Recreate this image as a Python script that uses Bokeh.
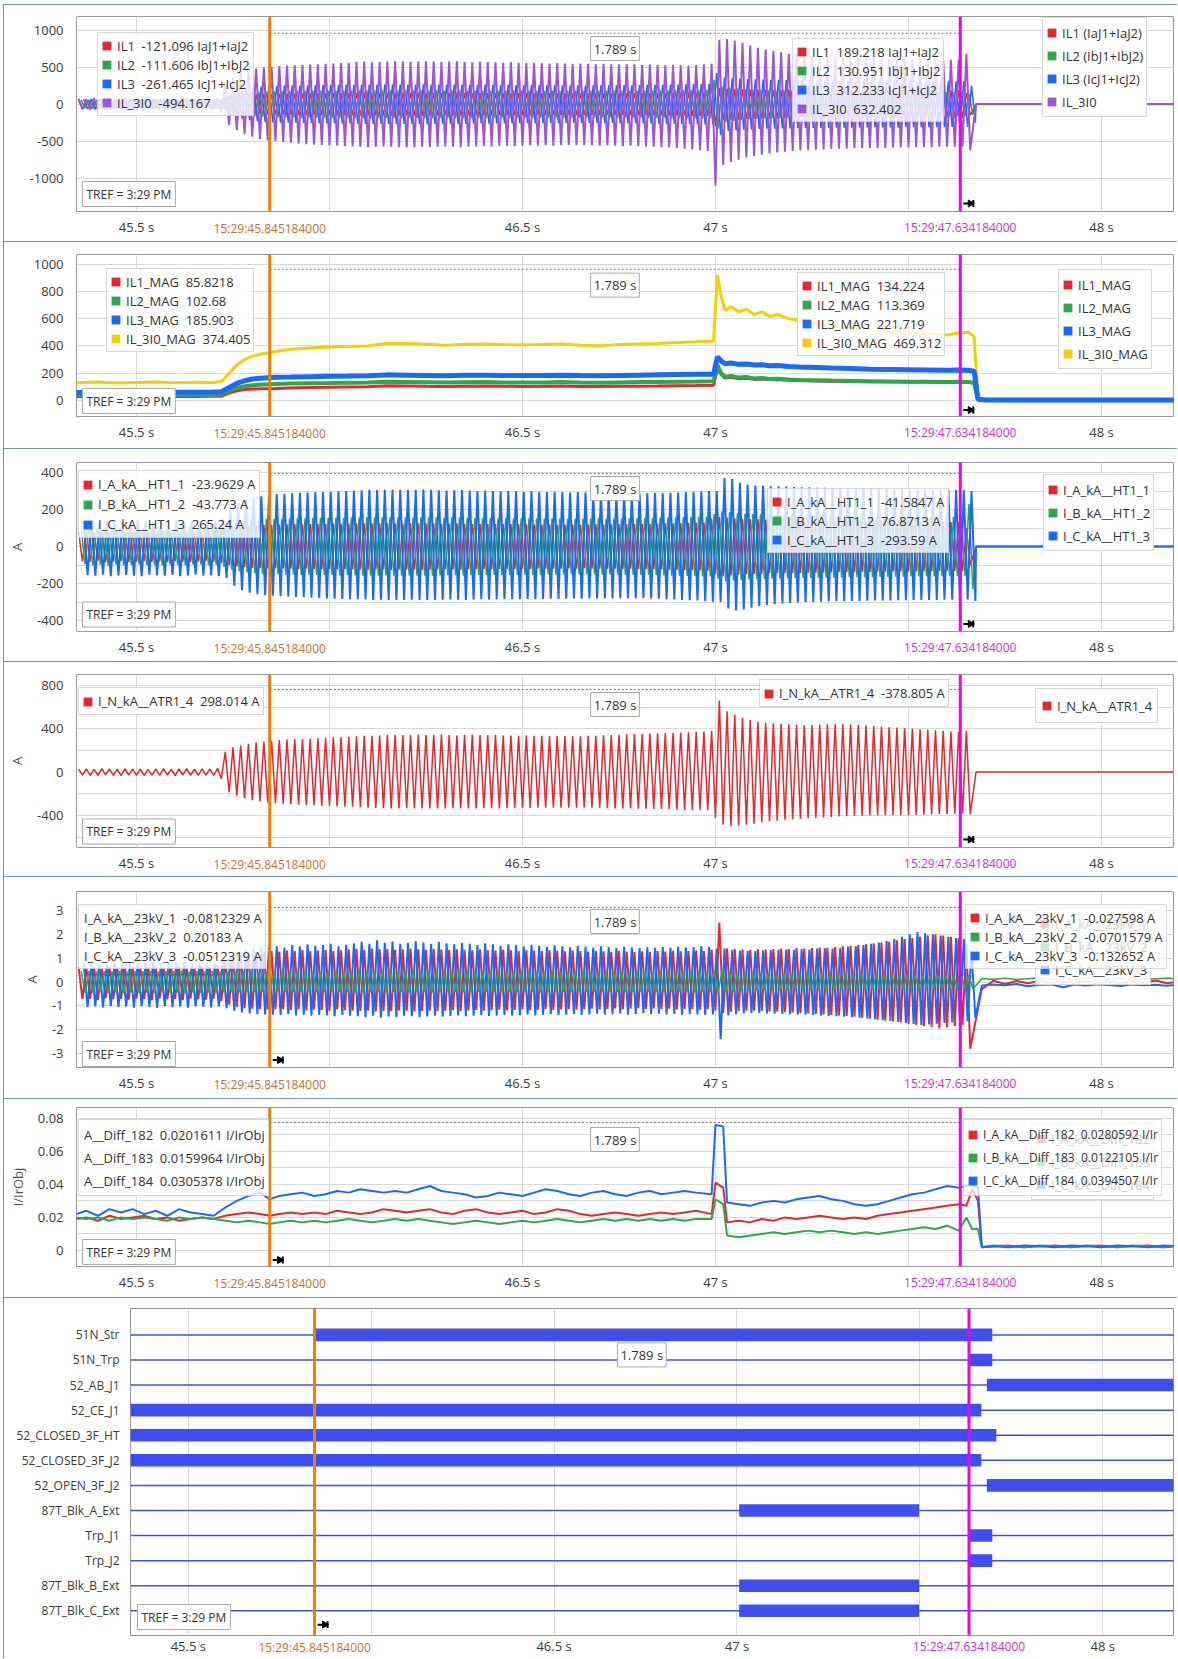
import math
from bokeh.plotting import figure
from bokeh.models import Range1d, FixedTicker, Legend, LegendItem, Label, Span, LinearAxis, Spacer
from bokeh.layouts import column, row
from bokeh.embed import file_html
from bokeh.resources import INLINE

# ====================== DATA ======================
CURSOR_1 = 45.845184
CURSOR_2 = 47.634184
X_TICKS = [45.5, 46.0, 46.5, 47.0, 47.5, 48.0]
X_LABELLED = [45.5, 46.5, 47.0, 48.0]
X_LABELS = ["45.5 s", "46.5 s", "47 s", "48 s"]
T0 = 45.345          # start of first sampled 50 Hz cycle
PERIOD = 0.02
FLAT_TAIL_T = [47.675, 48.2]
ZERO_TAIL = [0.0, 0.0]

# --- panel 1: per-cycle peaks (positive / negative) ---
IL3I0_HI = ([75, 70, 80, 72, 78, 70, 76, 74, 80, 72, 70, 78, 75, 72, 80, 74, 70, 76, 90]
            + [260, 360, 420, 460, 480, 495]
            + [505, 515, 520, 525, 530, 535, 540, 545, 550, 555,
               560, 570, 575, 565, 570, 575, 580, 575, 570, 575,
               580, 575, 570, 575, 580, 570, 565, 575, 570, 565,
               560, 565, 560, 555, 560, 555, 550, 555, 550, 545,
               550, 545, 540, 545, 540, 535, 540, 535, 530, 535,
               530, 525, 530, 525, 520, 530, 540]
            + [545]
            + [870, 880, 860, 830, 790, 760, 740, 720, 700, 680,
               670, 660, 655, 650, 645, 640, 640, 635, 630, 630,
               625, 620, 620, 615, 615, 610, 610, 605, 605, 600, 600, 600]
            + [680])
IL3I0_LO = ([-70, -75, -72, -78, -70, -74, -76, -72, -80, -70, -75, -72, -78, -74, -70, -76, -72, -75, -110]
            + [-280, -350, -400, -440, -470, -490]
            + [-500, -510, -520, -530, -540, -545, -550, -555, -560, -565,
               -570, -575, -580, -575, -570, -575, -580, -585, -580, -575,
               -580, -575, -570, -575, -580, -575, -570, -565, -570, -565,
               -560, -565, -560, -555, -560, -555, -560, -555, -550, -555,
               -550, -555, -560, -555, -560, -565, -560, -565, -570, -575,
               -580, -585, -590, -600, -610, -620, -630]
            + [-1100]
            + [-820, -780, -750, -720, -700, -680, -665, -650, -640, -630,
               -625, -620, -615, -610, -605, -600, -600, -595, -595, -590,
               -590, -590, -585, -585, -585, -580, -580, -580, -575, -575, -575, -570]
            + [-620])
IL3_AMP = ([65, 70, 68, 72, 66, 70, 74, 68, 70, 72, 66, 70, 68, 74, 70, 66, 72, 70, 80]
           + [150, 190, 215, 230, 240, 245]
           + [248, 250, 252, 255, 254, 256, 258, 260, 262, 260,
              262, 265, 266, 264, 265, 268, 266, 264, 266, 268,
              266, 264, 262, 264, 266, 262, 260, 262, 260, 258,
              260, 258, 256, 258, 256, 254, 256, 254, 252, 254,
              252, 254, 256, 254, 256, 258, 256, 258, 260, 262,
              262, 264, 266, 268, 270, 272, 275]
           + [420]
           + [360, 350, 345, 340, 335, 332, 330, 328, 326, 324,
              322, 320, 320, 318, 318, 316, 316, 315, 314, 314,
              313, 312, 312, 311, 311, 310, 310, 309, 309, 308, 308, 308]
           + [250])
IL1_AMP = ([45, 48, 46, 50, 44, 48, 47, 45, 49, 46, 48, 44, 47, 50, 46, 45, 48, 47, 55]
           + [90, 110, 120, 130, 135, 138]
           + [140, 142, 144, 145, 146, 147, 148, 150, 152, 150,
              152, 154, 155, 153, 154, 156, 155, 153, 154, 156,
              155, 153, 152, 154, 155, 152, 150, 152, 150, 149,
              150, 149, 148, 150, 148, 147, 148, 147, 146, 147,
              146, 147, 148, 147, 148, 149, 148, 149, 150, 151,
              152, 153, 154, 155, 156, 158, 160]
           + [300]
           + [220, 210, 205, 200, 198, 196, 195, 194, 193, 192,
              192, 191, 191, 190, 190, 190, 189, 189, 189, 188,
              188, 188, 188, 187, 187, 187, 187, 186, 186, 186, 186, 186]
           + [150])
IL2_AMP = ([55, 58, 56, 60, 54, 58, 57, 55, 59, 56, 58, 54, 57, 60, 56, 55, 58, 57, 65]
           + [110, 135, 150, 160, 168, 172]
           + [175, 177, 178, 180, 181, 182, 183, 184, 185, 184,
              185, 187, 188, 186, 187, 189, 188, 186, 187, 189,
              188, 186, 185, 187, 188, 185, 184, 185, 184, 183,
              184, 183, 182, 184, 182, 181, 182, 181, 180, 181,
              180, 181, 182, 181, 182, 183, 182, 183, 184, 185,
              186, 187, 188, 189, 190, 191, 192]
           + [330]
           + [240, 225, 215, 205, 198, 192, 188, 185, 182, 180,
              178, 176, 175, 174, 173, 172, 171, 170, 169, 168,
              168, 167, 166, 166, 165, 165, 164, 164, 163, 163, 162, 162]
           + [140])

# --- panel 2: magnitudes ---
MAG_T = [45.344, 45.40, 45.45, 45.50, 45.55, 45.60, 45.65, 45.70, 45.72, 45.74,
         45.76, 45.78, 45.80, 45.83, 45.86, 45.90, 45.95, 46.00, 46.05, 46.10,
         46.15, 46.20, 46.25, 46.30, 46.35, 46.40, 46.45, 46.50, 46.55, 46.60,
         46.65, 46.70, 46.75, 46.80, 46.85, 46.90, 46.95, 46.995, 47.005, 47.015,
         47.025, 47.04, 47.06, 47.08, 47.10, 47.12, 47.14, 47.16, 47.19, 47.22,
         47.26, 47.30, 47.35, 47.40, 47.45, 47.50, 47.55, 47.60, 47.63, 47.655,
         47.67, 47.68, 47.70, 47.80, 47.90, 48.00, 48.10, 48.2]
IL3I0_MAG = [130, 135, 128, 132, 136, 130, 134, 132, 140, 200,
             260, 300, 325, 345, 360, 375, 385, 392, 395, 400,
             420, 418, 412, 405, 412, 415, 410, 408, 410, 415,
             405, 402, 410, 415, 418, 425, 430, 435, 920, 760,
             660, 690, 650, 670, 630, 650, 615, 630, 600, 585,
             565, 550, 535, 520, 505, 495, 490, 480, 495, 500,
             470, 20, 8, 6, 7, 6, 7, 6]
IL3_MAG = [58, 62, 60, 63, 59, 61, 60, 62, 65, 95,
           125, 145, 158, 165, 170, 172, 175, 178, 180, 182,
           188, 186, 184, 182, 185, 186, 184, 183, 184, 186,
           183, 182, 184, 186, 188, 190, 192, 193, 320, 290,
           270, 275, 265, 268, 260, 262, 255, 256, 250, 246,
           242, 238, 234, 230, 228, 226, 224, 222, 224, 222,
           215, 10, 4, 3, 4, 3, 4, 3]
IL2_MAG = [40, 43, 41, 44, 40, 42, 41, 43, 45, 70,
           92, 105, 112, 118, 122, 125, 127, 128, 130, 132,
           138, 136, 134, 132, 134, 135, 133, 132, 133, 135,
           132, 131, 133, 135, 136, 138, 140, 142, 260, 200,
           175, 180, 168, 172, 162, 166, 158, 160, 154, 150,
           148, 146, 144, 142, 140, 138, 137, 136, 138, 136,
           130, 8, 3, 2, 3, 2, 3, 2]
IL1_MAG = [28, 31, 29, 32, 28, 30, 29, 31, 32, 55,
           72, 80, 84, 86, 88, 92, 95, 98, 100, 101,
           108, 106, 104, 103, 105, 106, 104, 103, 104, 106,
           103, 102, 104, 105, 106, 108, 110, 112, 230, 190,
           165, 170, 160, 163, 155, 158, 152, 154, 148, 146,
           144, 142, 140, 138, 137, 136, 135, 134, 135, 134,
           128, 7, 2, 2, 2, 2, 2, 2]

# --- panel 3: HT1 currents, per-cycle peaks ---
IC_HI = ([135, 140, 130, 138, 142, 136, 134, 140, 138, 132, 140, 136, 142, 134, 138, 140, 136, 138, 150]
         + [200, 235, 255, 265, 272, 278]
         + [282, 285, 288, 290, 292, 294, 295, 296, 298, 300,
            302, 304, 306, 305, 306, 308, 306, 305, 306, 308,
            306, 304, 302, 304, 305, 302, 300, 302, 300, 298,
            300, 298, 296, 298, 296, 294, 296, 294, 292, 294,
            292, 290, 292, 290, 288, 290, 288, 286, 288, 290,
            288, 290, 292, 294, 296, 298, 300]
         + [300]
         + [370, 365, 345, 335, 330, 328, 326, 325, 324, 322,
            320, 320, 318, 318, 316, 316, 315, 314, 314, 312,
            312, 311, 310, 310, 309, 308, 308, 307, 306, 306, 305, 305]
         + [300])
IC_LO = ([-155, -158, -152, -160, -156, -154, -158, -160, -152, -156, -158, -154, -160, -156, -152, -158, -156, -160, -170]
         + [-212, -235, -250, -258, -262, -266]
         + [-268, -270, -272, -274, -276, -278, -280, -282, -283, -284,
            -285, -286, -288, -287, -288, -289, -288, -287, -288, -289,
            -288, -287, -286, -287, -288, -286, -285, -286, -285, -284,
            -285, -284, -283, -284, -283, -282, -283, -282, -281, -282,
            -281, -280, -281, -280, -279, -280, -279, -278, -280, -282,
            -284, -286, -288, -290, -292, -295, -298]
         + [-300]
         + [-335, -345, -340, -330, -322, -316, -312, -308, -305, -302,
            -300, -299, -298, -297, -296, -295, -294, -294, -293, -292,
            -292, -291, -290, -290, -289, -289, -288, -288, -287, -287, -286, -286]
         + [-294])
IB_AMP = ([95, 100, 98, 102, 96, 100, 99, 97, 101, 98, 100, 96, 99, 102, 98, 97, 100, 99, 110]
          + [125, 135, 140, 145, 148, 150]
          + [150, 151, 152, 153, 152, 154, 155, 154, 156, 155,
             156, 157, 158, 157, 156, 158, 157, 156, 157, 158,
             157, 156, 155, 156, 157, 155, 154, 155, 154, 153,
             154, 153, 152, 153, 152, 151, 152, 151, 150, 151,
             150, 151, 152, 151, 152, 153, 152, 153, 154, 155,
             156, 157, 158, 159, 160, 161, 162]
          + [175]
          + [190, 185, 180, 178, 176, 175, 174, 173, 172, 171,
             170, 170, 169, 168, 168, 167, 166, 166, 165, 165,
             164, 164, 163, 163, 162, 162, 161, 161, 160, 160, 160, 160]
          + [230])
IA_AMP = ([80, 82, 78, 84, 80, 79, 83, 81, 78, 82, 80, 84, 79, 81, 83, 80, 78, 82, 90]
          + [100, 108, 112, 115, 117, 118]
          + [118, 119, 120, 121, 120, 122, 123, 122, 124, 123,
             124, 125, 126, 125, 124, 126, 125, 124, 125, 126,
             125, 124, 123, 124, 125, 123, 122, 123, 122, 121,
             122, 121, 120, 121, 120, 119, 120, 119, 118, 119,
             118, 119, 120, 119, 120, 121, 120, 121, 122, 123,
             124, 125, 126, 127, 128, 129, 130]
          + [150]
          + [160, 156, 152, 150, 148, 147, 146, 145, 144, 143,
             142, 142, 141, 140, 140, 139, 138, 138, 137, 137,
             136, 136, 135, 135, 134, 134, 133, 133, 132, 132, 132, 132]
          + [100])

# --- panel 4: neutral current, per-cycle peaks ---
IN_HI = ([28, 30, 26, 32, 29, 27, 31, 30, 28, 26, 30, 32, 28, 29, 31, 27, 30, 28, 35]
         + [186, 228, 245, 260, 272, 282]
         + [290, 295, 300, 305, 305, 310, 312, 315, 320, 322,
            325, 330, 335, 336, 340, 344, 345, 342, 345, 346,
            342, 345, 346, 342, 340, 344, 346, 342, 340, 344,
            340, 338, 336, 340, 336, 335, 332, 336, 333, 332,
            330, 334, 336, 340, 342, 345, 348, 350, 352, 355,
            358, 360, 362, 365, 368, 372, 375]
         + [380]
         + [660, 560, 530, 500, 480, 465, 455, 450, 445, 440,
            435, 432, 435, 438, 440, 442, 440, 438, 435, 430,
            425, 420, 415, 410, 405, 400, 395, 390, 385, 380, 375, 370]
         + [382])
IN_LO = ([-27, -31, -29, -26, -30, -32, -28, -29, -31, -27, -30, -28, -32, -26, -29, -31, -28, -30, -60]
         + [-186, -214, -240, -260, -270, -280]
         + [-288, -292, -296, -300, -304, -306, -310, -312, -316, -318,
            -320, -324, -328, -330, -332, -334, -335, -333, -335, -336,
            -334, -335, -336, -333, -332, -334, -336, -333, -332, -334,
            -332, -330, -329, -331, -329, -328, -327, -329, -328, -327,
            -326, -328, -330, -332, -334, -335, -336, -337, -338, -339,
            -340, -342, -344, -346, -348, -350, -352]
         + [-420]
         + [-485, -500, -495, -485, -475, -465, -455, -448, -440, -435,
            -430, -426, -422, -418, -414, -410, -406, -403, -402, -400,
            -400, -398, -398, -397, -396, -395, -393, -390, -388, -386, -384, -382]
         + [-390])

# --- panel 5: 23 kV currents, per-cycle peaks ---
A23_HI = ([0.62, 0.60, 0.65, 0.58, 0.63, 0.61, 0.64, 0.60, 0.62, 0.66, 0.59, 0.63, 0.61, 0.65, 0.60, 0.62, 0.64, 0.60, 0.70]
          + [0.90, 1.05, 1.15, 1.20, 1.25, 1.28]
          + [1.30, 1.28, 1.32, 1.30, 1.34, 1.30, 1.32, 1.35, 1.30, 1.33,
             1.36, 1.38, 1.35, 1.40, 1.37, 1.38, 1.35, 1.36, 1.40, 1.37,
             1.35, 1.38, 1.36, 1.34, 1.37, 1.35, 1.33, 1.36, 1.34, 1.32,
             1.35, 1.33, 1.30, 1.34, 1.32, 1.30, 1.33, 1.31, 1.29, 1.32,
             1.30, 1.28, 1.31, 1.29, 1.27, 1.30, 1.28, 1.26, 1.29, 1.27,
             1.30, 1.28, 1.31, 1.29, 1.30, 1.32, 1.30]
          + [1.35]
          + [2.50, 1.40, 1.38, 1.36, 1.35, 1.37, 1.36, 1.38, 1.40, 1.38,
             1.42, 1.40, 1.43, 1.45, 1.44, 1.47, 1.50, 1.52, 1.55, 1.58,
             1.62, 1.66, 1.70, 1.75, 1.80, 1.85, 1.90, 1.95, 2.00, 1.95, 1.90, 1.85]
          + [1.60])
A23_LO = ([-0.72, -0.70, -0.75, -0.68, -0.73, -0.71, -0.74, -0.70, -0.72, -0.76, -0.69, -0.73, -0.71, -0.75, -0.70, -0.72, -0.74, -0.70, -0.80]
          + [-0.95, -1.05, -1.10, -1.12, -1.14, -1.15]
          + [-1.15, -1.13, -1.17, -1.15, -1.19, -1.15, -1.17, -1.20, -1.15, -1.18,
             -1.20, -1.22, -1.19, -1.24, -1.21, -1.22, -1.19, -1.20, -1.24, -1.21,
             -1.19, -1.22, -1.20, -1.18, -1.21, -1.19, -1.17, -1.20, -1.18, -1.16,
             -1.19, -1.17, -1.14, -1.18, -1.16, -1.14, -1.17, -1.15, -1.13, -1.16,
             -1.14, -1.12, -1.15, -1.13, -1.11, -1.14, -1.12, -1.10, -1.13, -1.11,
             -1.14, -1.12, -1.15, -1.13, -1.14, -1.16, -1.14]
          + [-1.20]
          + [-1.30, -1.25, -1.22, -1.20, -1.20, -1.22, -1.24, -1.25, -1.27, -1.28,
             -1.30, -1.32, -1.34, -1.36, -1.38, -1.40, -1.43, -1.46, -1.50, -1.54,
             -1.58, -1.62, -1.66, -1.70, -1.75, -1.80, -1.85, -1.90, -1.95, -1.90, -1.85, -1.80]
          + [-2.80])
C23_HI = ([0.80, 0.78, 0.82, 0.76, 0.80, 0.79, 0.83, 0.78, 0.80, 0.84, 0.77, 0.81, 0.79, 0.83, 0.78, 0.80, 0.82, 0.79, 0.90]
          + [1.10, 1.25, 1.35, 1.40, 1.45, 1.48]
          + [1.50, 1.45, 1.55, 1.50, 1.58, 1.52, 1.55, 1.60, 1.50, 1.56,
             1.62, 1.70, 1.60, 1.75, 1.65, 1.70, 1.60, 1.65, 1.72, 1.66,
             1.60, 1.68, 1.62, 1.58, 1.65, 1.60, 1.55, 1.62, 1.58, 1.52,
             1.58, 1.55, 1.50, 1.56, 1.52, 1.48, 1.54, 1.50, 1.46, 1.52,
             1.48, 1.45, 1.50, 1.47, 1.44, 1.48, 1.45, 1.42, 1.46, 1.44,
             1.47, 1.45, 1.48, 1.46, 1.47, 1.50, 1.48]
          + [1.40]
          + [1.40, 1.35, 1.32, 1.30, 1.30, 1.32, 1.34, 1.35, 1.36, 1.35,
             1.38, 1.36, 1.40, 1.42, 1.40, 1.44, 1.48, 1.50, 1.55, 1.60,
             1.66, 1.72, 1.80, 1.90, 2.00, 2.10, 2.05, 2.00, 1.95, 1.90, 1.85, 1.80]
          + [1.30])
C23_LO = ([-1.05, -1.03, -1.07, -1.01, -1.05, -1.04, -1.08, -1.03, -1.05, -1.09, -1.02, -1.06, -1.04, -1.08, -1.03, -1.05, -1.07, -1.04, -1.10]
          + [-1.20, -1.28, -1.32, -1.35, -1.36, -1.37]
          + [-1.38, -1.35, -1.40, -1.37, -1.42, -1.38, -1.40, -1.44, -1.38, -1.41,
             -1.44, -1.48, -1.42, -1.50, -1.45, -1.47, -1.42, -1.44, -1.48, -1.45,
             -1.42, -1.46, -1.43, -1.40, -1.44, -1.42, -1.39, -1.43, -1.41, -1.38,
             -1.41, -1.39, -1.36, -1.40, -1.38, -1.35, -1.39, -1.37, -1.34, -1.38,
             -1.36, -1.33, -1.37, -1.35, -1.32, -1.36, -1.34, -1.31, -1.35, -1.33,
             -1.36, -1.34, -1.37, -1.35, -1.36, -1.38, -1.36]
          + [-2.40]
          + [-1.40, -1.35, -1.32, -1.30, -1.30, -1.32, -1.33, -1.34, -1.35, -1.36,
             -1.37, -1.38, -1.40, -1.42, -1.44, -1.46, -1.48, -1.50, -1.53, -1.56,
             -1.60, -1.64, -1.68, -1.72, -1.76, -1.80, -1.78, -1.75, -1.72, -1.70, -1.68, -1.65]
          + [-1.50])
B23_AMP = ([0.45, 0.47, 0.44, 0.46, 0.45, 0.48, 0.44, 0.46, 0.45, 0.47, 0.44, 0.46, 0.45, 0.48, 0.44, 0.46, 0.45, 0.47, 0.45]
           + [0.44, 0.43, 0.42, 0.42, 0.41, 0.40]
           + [0.40, 0.41, 0.42, 0.40, 0.41, 0.43, 0.42, 0.40, 0.41, 0.42,
              0.43, 0.42, 0.44, 0.42, 0.43, 0.41, 0.42, 0.44, 0.42, 0.41,
              0.43, 0.42, 0.40, 0.41, 0.43, 0.42, 0.40, 0.41, 0.42, 0.40,
              0.41, 0.42, 0.40, 0.41, 0.43, 0.42, 0.40, 0.41, 0.42, 0.40,
              0.41, 0.42, 0.40, 0.41, 0.43, 0.42, 0.40, 0.41, 0.42, 0.40,
              0.41, 0.42, 0.40, 0.41, 0.43, 0.42, 0.40]
           + [0.45]
           + [0.42, 0.40, 0.38, 0.37, 0.36, 0.36, 0.35, 0.36, 0.35, 0.34,
              0.35, 0.34, 0.33, 0.34, 0.33, 0.32, 0.33, 0.32, 0.31, 0.32,
              0.31, 0.30, 0.31, 0.30, 0.29, 0.30, 0.29, 0.28, 0.29, 0.28, 0.27, 0.28]
           + [0.30])
TAIL23_T = [47.69, 47.72, 47.75, 47.78, 47.81, 47.84, 47.87, 47.90, 47.93, 47.96,
            47.99, 48.02, 48.05, 48.08, 48.11, 48.14, 48.17, 48.2]
A23_TAIL = [-0.30, 0.05, -0.08, 0.04, -0.05, 0.06, -0.04, 0.05, -0.06, 0.03,
            -0.05, 0.04, -0.07, 0.05, -0.04, 0.06, -0.05, 0.02]
B23_TAIL = [0.15, 0.12, 0.16, 0.10, 0.14, 0.18, 0.11, 0.15, 0.12, 0.17,
            0.10, 0.14, 0.16, 0.11, 0.15, 0.13, 0.17, 0.12]
C23_TAIL = [-0.15, -0.10, -0.14, -0.08, -0.18, -0.12, -0.10, -0.22, -0.11, -0.15,
            -0.09, -0.13, -0.17, -0.10, -0.14, -0.12, -0.16, -0.10]

# --- panel 6: differential currents ---
DIFF_T = [45.344, 45.37, 45.40, 45.43, 45.46, 45.49, 45.52, 45.55, 45.58, 45.61,
          45.64, 45.67, 45.70, 45.73, 45.76, 45.79, 45.82, 45.845, 45.87, 45.90,
          45.93, 45.96, 45.99, 46.02, 46.05, 46.08, 46.11, 46.14, 46.17, 46.20,
          46.23, 46.26, 46.29, 46.32, 46.35, 46.38, 46.41, 46.44, 46.47, 46.50,
          46.53, 46.56, 46.59, 46.62, 46.65, 46.68, 46.71, 46.74, 46.77, 46.80,
          46.83, 46.86, 46.89, 46.92, 46.95, 46.99, 47.00, 47.02, 47.03, 47.06,
          47.09, 47.12, 47.15, 47.18, 47.21, 47.24, 47.27, 47.30, 47.33, 47.36,
          47.39, 47.42, 47.45, 47.48, 47.51, 47.54, 47.57, 47.60, 47.63, 47.65,
          47.665, 47.68, 47.69, 47.72, 47.76, 47.80, 47.84, 47.88, 47.92, 47.96,
          48.00, 48.04, 48.08, 48.12, 48.16, 48.2]
C_DIFF = [0.022, 0.024, 0.021, 0.025, 0.023, 0.025, 0.022, 0.024, 0.021, 0.025,
          0.023, 0.022, 0.021, 0.026, 0.030, 0.033, 0.035, 0.031, 0.033, 0.034,
          0.035, 0.033, 0.034, 0.036, 0.035, 0.037, 0.036, 0.035, 0.036, 0.035,
          0.037, 0.039, 0.036, 0.035, 0.034, 0.032, 0.033, 0.035, 0.034, 0.033,
          0.035, 0.037, 0.036, 0.034, 0.033, 0.035, 0.036, 0.034, 0.033, 0.035,
          0.036, 0.034, 0.035, 0.036, 0.035, 0.034, 0.076, 0.075, 0.029, 0.028,
          0.027, 0.029, 0.030, 0.029, 0.031, 0.032, 0.033, 0.031, 0.030, 0.028,
          0.027, 0.028, 0.030, 0.032, 0.034, 0.035, 0.037, 0.039, 0.038, 0.039,
          0.040, 0.038, 0.002, 0.0025, 0.002, 0.003, 0.0025, 0.002, 0.003, 0.0025,
          0.002, 0.003, 0.0025, 0.002, 0.003, 0.0025]
A_DIFF = [0.019, 0.020, 0.018, 0.021, 0.019, 0.020, 0.021, 0.019, 0.020, 0.018,
          0.019, 0.020, 0.019, 0.021, 0.022, 0.023, 0.022, 0.021, 0.022, 0.023,
          0.022, 0.023, 0.022, 0.024, 0.023, 0.022, 0.023, 0.025, 0.024, 0.023,
          0.024, 0.025, 0.023, 0.022, 0.024, 0.025, 0.023, 0.022, 0.023, 0.024,
          0.022, 0.023, 0.025, 0.024, 0.022, 0.021, 0.022, 0.023, 0.022, 0.021,
          0.022, 0.023, 0.022, 0.023, 0.024, 0.022, 0.041, 0.038, 0.017, 0.018,
          0.017, 0.019, 0.018, 0.020, 0.019, 0.020, 0.021, 0.020, 0.019, 0.020,
          0.019, 0.021, 0.022, 0.023, 0.024, 0.025, 0.026, 0.027, 0.028, 0.027,
          0.037, 0.030, 0.002, 0.0025, 0.003, 0.002, 0.0025, 0.003, 0.002, 0.0025,
          0.003, 0.002, 0.0025, 0.003, 0.002, 0.0025]
B_DIFF = [0.020, 0.019, 0.020, 0.018, 0.020, 0.019, 0.020, 0.019, 0.018, 0.020,
          0.019, 0.020, 0.019, 0.018, 0.017, 0.018, 0.017, 0.016, 0.017, 0.018,
          0.017, 0.018, 0.017, 0.018, 0.019, 0.018, 0.017, 0.018, 0.019, 0.018,
          0.019, 0.018, 0.017, 0.016, 0.017, 0.018, 0.017, 0.016, 0.017, 0.018,
          0.017, 0.018, 0.019, 0.018, 0.017, 0.018, 0.019, 0.018, 0.019, 0.018,
          0.019, 0.018, 0.019, 0.018, 0.019, 0.019, 0.031, 0.028, 0.009, 0.008,
          0.009, 0.010, 0.011, 0.010, 0.011, 0.012, 0.011, 0.012, 0.011, 0.010,
          0.011, 0.010, 0.011, 0.012, 0.013, 0.014, 0.013, 0.015, 0.012, 0.020,
          0.013, 0.013, 0.002, 0.003, 0.0025, 0.002, 0.003, 0.0025, 0.002, 0.003,
          0.0025, 0.002, 0.003, 0.0025, 0.002, 0.003]

# --- panel 7: binary signals ---
SIG_NAMES = ["51N_Str", "51N_Trp", "52_AB_J1", "52_CE_J1", "52_CLOSED_3F_HT", "52_CLOSED_3F_J2",
             "52_OPEN_3F_J2", "87T_Blk_A_Ext", "Trp_J1", "Trp_J2", "87T_Blk_B_Ext", "87T_Blk_C_Ext"]
SIG_ON = [45.845, 47.637, 47.683, 45.342, 45.342, 45.342, 47.683, 47.006, 47.637, 47.637, 47.006, 47.006]
SIG_OFF = [47.698, 47.698, 48.2, 47.668, 47.709, 47.668, 48.2, 47.498, 47.698, 47.698, 47.498, 47.498]
TRACE_START, TRACE_END = 45.342, 48.2

# --- legend texts ---
P1_NAMES = ["IL1 (IaJ1+IaJ2)", "IL2 (IbJ1+IbJ2)", "IL3 (IcJ1+IcJ2)", "IL_3I0"]
P1_CUR1 = ["IL1  -121.096 IaJ1+IaJ2", "IL2  -111.606 IbJ1+IbJ2", "IL3  -261.465 IcJ1+IcJ2", "IL_3I0  -494.167"]
P1_CUR2 = ["IL1  189.218 IaJ1+IaJ2", "IL2  130.951 IbJ1+IbJ2", "IL3  312.233 IcJ1+IcJ2", "IL_3I0  632.402"]
P2_NAMES = ["IL1_MAG", "IL2_MAG", "IL3_MAG", "IL_3I0_MAG"]
P2_CUR1 = ["IL1_MAG  85.8218", "IL2_MAG  102.68", "IL3_MAG  185.903", "IL_3I0_MAG  374.405"]
P2_CUR2 = ["IL1_MAG  134.224", "IL2_MAG  113.369", "IL3_MAG  221.719", "IL_3I0_MAG  469.312"]
P3_NAMES = ["I_A_kA__HT1_1", "I_B_kA__HT1_2", "I_C_kA__HT1_3"]
P3_CUR1 = ["I_A_kA__HT1_1  -23.9629 A", "I_B_kA__HT1_2  -43.773 A", "I_C_kA__HT1_3  265.24 A"]
P3_CUR2 = ["I_A_kA__HT1_1  -41.5847 A", "I_B_kA__HT1_2  76.8713 A", "I_C_kA__HT1_3  -293.59 A"]
P4_NAMES = ["I_N_kA__ATR1_4"]
P4_CUR1 = ["I_N_kA__ATR1_4  298.014 A"]
P4_CUR2 = ["I_N_kA__ATR1_4  -378.805 A"]
P5_NAMES = ["I_A_kA__23kV_1", "I_B_kA__23kV_2", "I_C_kA__23kV_3"]
P5_CUR1 = ["I_A_kA__23kV_1  -0.0812329 A", "I_B_kA__23kV_2  0.20183 A", "I_C_kA__23kV_3  -0.0512319 A"]
P5_CUR2 = ["I_A_kA__23kV_1  -0.027598 A", "I_B_kA__23kV_2  -0.0701579 A", "I_C_kA__23kV_3  -0.132652 A"]
P6_NAMES = ["I_A_kA__Diff_182", "I_B_kA__Diff_183", "I_C_kA__Diff_184"]
P6_CUR1 = ["A__Diff_182  0.0201611 I/IrObj", "A__Diff_183  0.0159964 I/IrObj", "A__Diff_184  0.0305378 I/IrObj"]
P6_CUR2 = ["I_A_kA__Diff_182  0.0280592 I/Ir", "I_B_kA__Diff_183  0.0122105 I/Ir", "I_C_kA__Diff_184  0.0394507 I/Ir"]
TREF_TEXT = "TREF = 3:29 PM"

# ====================== STYLE / LAYOUT ======================
FONT = "Open Sans"
RED, GREEN, BLUE, PURPLE, YELLOW = "#e8262c", "#2ca84a", "#1769ff", "#9b55d6", "#f5d000"
ORANGE, MAGENTA = "#f07c00", "#f000f0"
ORANGE_TXT, MAGENTA_TXT = "#c8702a", "#d62ad6"
DIGI = "#3d4ff2"
W = 1174
PAGE_X = 3
RIGHT = 4
XR = (45.3446, 48.1866)
XR7 = (45.342, 48.1933)
NAN = float("nan")
CURSOR_AXIS_STANDOFF = (-19, -21)


class Geo:
    def __init__(self, left, ftop, fbot, xr, y_top, y_bot):
        self.fl = PAGE_X + left
        self.fr = PAGE_X + W - RIGHT
        self.ft, self.fb = ftop, fbot
        self.xr = xr
        self.yt, self.yb = y_top, y_bot

    def x(self, px):
        return self.xr[0] + (px - self.fl) / (self.fr - self.fl) * (self.xr[1] - self.xr[0])

    def dx(self, dpx):
        return dpx / (self.fr - self.fl) * (self.xr[1] - self.xr[0])

    def y(self, py):
        return self.yt + (py - self.ft) / (self.fb - self.ft) * (self.yb - self.yt)


def make_panel(top, height, ftop, fbot, y_top, y_bot, yticks, ylabels, ygrid, ylabel=None,
               left=73, xr=XR, ylabel_size="13px", xstandoff=6, ystandoff=13):
    p = figure(width=W, height=height, x_range=Range1d(*xr), y_range=Range1d(y_bot, y_top),
               output_backend="svg", toolbar_location=None,
               min_border_left=left, min_border_right=RIGHT,
               min_border_top=ftop - top, min_border_bottom=top + height - fbot)
    if "frame_align" in p.properties():
        p.frame_align = False
    p.outline_line_color = "#9a9a9a"
    p.outline_line_width = 1
    p.background_fill_color = "white"
    p.border_fill_color = "white"
    p.xgrid.ticker = FixedTicker(ticks=X_TICKS)
    p.ygrid.ticker = FixedTicker(ticks=ygrid)
    p.grid.grid_line_color = "#d9d9d9"
    p.grid.grid_line_width = 1
    xa, ya = p.xaxis[0], p.yaxis[0]
    xa.ticker = FixedTicker(ticks=X_LABELLED)
    xa.major_label_overrides = {t: s for t, s in zip(X_LABELLED, X_LABELS)}
    ya.ticker = FixedTicker(ticks=yticks)
    ya.major_label_overrides = {t: s for t, s in zip(yticks, ylabels)}
    for ax in (xa, ya):
        ax.axis_line_color = None
        ax.major_tick_line_color = None
        ax.minor_tick_line_color = None
        ax.major_tick_out = 0
        ax.major_tick_in = 0
        ax.major_label_text_font = FONT
        ax.major_label_text_color = "#3a3a3a"
    xa.major_label_text_font_size = "13px"
    ya.major_label_text_font_size = ylabel_size
    xa.major_label_standoff = xstandoff
    ya.major_label_standoff = ystandoff
    if ylabel:
        ya.axis_label = ylabel
        ya.axis_label_text_font = FONT
        ya.axis_label_text_font_size = "13px"
        ya.axis_label_text_font_style = "normal"
        ya.axis_label_text_color = "#505050"
        ya.axis_label_standoff = 8
    # cursor time read-outs, drawn as extra axes sharing the tick-label row
    for c, col, so in ((CURSOR_1, ORANGE_TXT, CURSOR_AXIS_STANDOFF[0]),
                       (CURSOR_2, MAGENTA_TXT, CURSOR_AXIS_STANDOFF[1])):
        cax = LinearAxis(ticker=FixedTicker(ticks=[c]),
                         major_label_overrides={c: "15:29:" + f"{c:.9f}"},
                         major_label_standoff=so, major_label_text_color=col,
                         major_label_text_font=FONT, major_label_text_font_size="12px",
                         axis_line_color=None, major_tick_line_color=None,
                         minor_tick_line_color=None, major_tick_out=0, major_tick_in=0)
        p.add_layout(cax, "below")
    p.styles = {"outline": "2px solid #3c6ed2", "outline-offset": "-2px"}
    return p, Geo(left, ftop, fbot, xr, y_top, y_bot)


def wave(p, hi, lo, phase, tail_t, tail_v, color, width=1.5):
    xs, ys = [], []
    for k, (h, l) in enumerate(zip(hi, lo)):
        t = T0 + k * PERIOD + phase
        xs += [t + PERIOD / 4, t + 3 * PERIOD / 4]
        ys += [h, l]
    xs += list(tail_t)
    ys += list(tail_v)
    return p.line(xs, ys, line_color=color, line_width=width)


def neg(a):
    return [-v for v in a]


def legend(p, g, texts, colors, left_px, bottom_px, item_h, pad=3, alpha=0.85, squares=True,
           size="13px"):
    items = []
    for t, c in zip(texts, colors):
        r = p.quad(left=[NAN], right=[NAN], top=[NAN], bottom=[NAN], fill_color=c, line_color=None,
                   fill_alpha=1.0 if squares else 0.0)
        items.append(LegendItem(label=t.replace("  ", "\u00a0 "), renderers=[r]))
    lg = Legend(items=items, location=(left_px - g.fl, g.fb - bottom_px), orientation="vertical",
                padding=pad, spacing=0, margin=0,
                glyph_width=11 if squares else 1, glyph_height=11,
                label_height=item_h, label_standoff=5 if squares else 1,
                label_text_font=FONT, label_text_font_size=size, label_text_color="#333333",
                border_line_color="#b0b0b0", border_line_width=1,
                background_fill_color="white", background_fill_alpha=alpha)
    p.add_layout(lg)


def tref(p, g, px, py):
    p.add_layout(Label(x=g.x(px), y=g.y(py), text=TREF_TEXT, text_font=FONT, text_font_size="12px",
                       text_color="#333333", text_baseline="bottom", text_align="left",
                       border_line_color="#a8a8a8", background_fill_color="white", padding=4))


def cursors(p, g, dash_py, box_py, mark_cursor, mark_py):
    p.add_layout(Span(location=CURSOR_1, dimension="height", line_color=ORANGE, line_width=3))
    p.add_layout(Span(location=CURSOR_2, dimension="height", line_color=MAGENTA, line_width=3))
    yd = g.y(dash_py)
    p.segment(x0=[CURSOR_1], x1=[CURSOR_2], y0=[yd], y1=[yd], line_color="#777777",
              line_width=1, line_dash="2 2")
    p.add_layout(Label(x=(CURSOR_1 + CURSOR_2) / 2, y=g.y(box_py), text=f"{CURSOR_2 - CURSOR_1:.3f} s",
                       text_align="center", text_baseline="middle", text_font=FONT,
                       text_font_size="13px", text_color="#333333",
                       border_line_color="#a8a8a8", background_fill_color="white", padding=3))
    ym = g.y(mark_py)
    p.segment(x0=[mark_cursor + g.dx(3)], x1=[mark_cursor + g.dx(9)], y0=[ym], y1=[ym],
              line_color="black", line_width=2)
    p.scatter(x=[mark_cursor + g.dx(10)], y=[ym], marker="triangle", angle=-math.pi / 2,
              size=7, color="black")
    p.segment(x0=[mark_cursor + g.dx(13)], x1=[mark_cursor + g.dx(13)],
              y0=[g.y(mark_py - 3.5)], y1=[g.y(mark_py + 3.5)], line_color="black", line_width=2)


PH = [0.0, PERIOD / 3, 2 * PERIOD / 3]

# ---------- Panel 1 ----------
p1, g1 = make_panel(4, 237, 16, 211, 1183.5, -1448, [-1000, -500, 0, 500, 1000],
                    ["-1000", "-500", "0", "500", "1000"], [-1000, -500, 0, 500, 1000])
wave(p1, IL1_AMP, neg(IL1_AMP), PH[0], FLAT_TAIL_T, ZERO_TAIL, RED)
wave(p1, IL2_AMP, neg(IL2_AMP), PH[1], FLAT_TAIL_T, ZERO_TAIL, GREEN)
wave(p1, IL3_AMP, neg(IL3_AMP), PH[2], FLAT_TAIL_T, ZERO_TAIL, BLUE)
wave(p1, IL3I0_HI, IL3I0_LO, PH[0], FLAT_TAIL_T, ZERO_TAIL, PURPLE, 2)
cursors(p1, g1, 32.8, 48, CURSOR_2, 203)
tref(p1, g1, 82, 206)
C4 = [RED, GREEN, BLUE, PURPLE]
legend(p1, g1, P1_CUR1, C4, 97, 116, 19, alpha=0.8)
legend(p1, g1, P1_CUR2, C4, 792, 122, 19, alpha=0.8)
legend(p1, g1, P1_NAMES, C4, 1042, 117, 23, alpha=1.0)

# ---------- Panel 2 ----------
p2, g2 = make_panel(241, 207, 254, 416, 1070, -117, [0, 200, 400, 600, 800, 1000],
                    ["0", "200", "400", "600", "800", "1000"], [0, 200, 400, 600, 800, 1000])
p2.line(MAG_T, IL3I0_MAG, line_color=YELLOW, line_width=3)
p2.line(MAG_T, IL1_MAG, line_color=RED, line_width=3)
p2.line(MAG_T, IL2_MAG, line_color=GREEN, line_width=4)
p2.line(MAG_T, IL3_MAG, line_color=BLUE, line_width=5)
cursors(p2, g2, 268.8, 284.7, CURSOR_2, 409.6)
tref(p2, g2, 82, 413)
C4Y = [RED, GREEN, BLUE, YELLOW]
legend(p2, g2, P2_CUR1, C4Y, 106, 352, 19, alpha=0.8)
legend(p2, g2, P2_CUR2, C4Y, 797, 356, 19, alpha=0.8)
legend(p2, g2, P2_NAMES, C4Y, 1058, 369, 23, alpha=1.0)

# ---------- Panel 3 ----------
p3, g3 = make_panel(448, 213, 462, 631, 454, -459, [-400, -200, 0, 200, 400],
                    ["-400", "-200", "0", "200", "400"],
                    [-400, -300, -200, -100, 0, 100, 200, 300, 400], ylabel="A")
wave(p3, IA_AMP, neg(IA_AMP), PH[0], FLAT_TAIL_T, ZERO_TAIL, RED)
wave(p3, IB_AMP, neg(IB_AMP), PH[1], FLAT_TAIL_T, ZERO_TAIL, GREEN)
wave(p3, IC_HI, IC_LO, PH[2], FLAT_TAIL_T, ZERO_TAIL, BLUE, 2)
cursors(p3, g3, 473, 488, CURSOR_2, 623.4)
tref(p3, g3, 82, 626.5)
C3 = [RED, GREEN, BLUE]
legend(p3, g3, P3_CUR1, C3, 78, 538, 20, alpha=0.8)
legend(p3, g3, P3_CUR2, C3, 767, 553, 19, alpha=0.8)
legend(p3, g3, P3_NAMES, C3, 1043, 551, 23, alpha=1.0)

# ---------- Panel 4 ----------
p4, g4 = make_panel(661, 215, 674, 847, 900, -695, [-400, 0, 400, 800],
                    ["-400", "0", "400", "800"], [-600, -400, -200, 0, 200, 400, 600, 800], ylabel="A")
wave(p4, IN_HI, IN_LO, PH[0], FLAT_TAIL_T, ZERO_TAIL, RED, 1.5)
cursors(p4, g4, 689, 704, CURSOR_2, 839)
tref(p4, g4, 82, 843.5)
legend(p4, g4, P4_CUR1, [RED], 78, 715, 20, alpha=0.9)
legend(p4, g4, P4_CUR2, [RED], 759, 707, 20, alpha=0.9)
legend(p4, g4, P4_NAMES, [RED], 1035, 723, 23, pad=5, alpha=1.0)

# ---------- Panel 5 ----------
p5, g5 = make_panel(876, 222, 891, 1067, 3.80, -3.59, [-3, -2, -1, 0, 1, 2, 3],
                    ["-3", "-2", "-1", "0", "1", "2", "3"], [-3, -2, -1, 0, 1, 2, 3], ylabel="A")
wave(p5, A23_HI, A23_LO, PH[0], TAIL23_T, A23_TAIL, RED, 2)
wave(p5, C23_HI, C23_LO, PH[2], TAIL23_T, C23_TAIL, BLUE, 2)
wave(p5, B23_AMP, neg(B23_AMP), PH[1], TAIL23_T, B23_TAIL, GREEN, 1.5)
cursors(p5, g5, 907, 921, CURSOR_1, 1059.5)
tref(p5, g5, 82, 1066)
legend(p5, g5, P5_NAMES, C3, 1035, 985, 23, alpha=0.9)
legend(p5, g5, P5_CUR1, C3, 78, 969, 19, alpha=0.8, squares=False)
legend(p5, g5, P5_CUR2, C3, 965, 969, 19, alpha=0.75)

# ---------- Panel 6 ----------
p6, g6 = make_panel(1098, 199, 1107, 1266, 0.0865, -0.0097, [0, 0.02, 0.04, 0.06, 0.08],
                    ["0", "0.02", "0.04", "0.06", "0.08"],
                    [0, 0.01, 0.02, 0.03, 0.04, 0.05, 0.06, 0.07, 0.08], ylabel="I/IrObj")
p6.line(DIFF_T, A_DIFF, line_color=RED, line_width=2)
p6.line(DIFF_T, B_DIFF, line_color=GREEN, line_width=2)
p6.line(DIFF_T, C_DIFF, line_color=BLUE, line_width=2)
cursors(p6, g6, 1122, 1139, CURSOR_1, 1259.5)
tref(p6, g6, 82, 1264)
legend(p6, g6, P6_NAMES, C3, 1031, 1200, 23, alpha=0.9)
legend(p6, g6, P6_CUR1, C3, 78, 1196, 23, alpha=0.8, squares=False)
legend(p6, g6, P6_CUR2, C3, 963, 1196, 23, alpha=0.75, size="12px")

# ---------- Panel 7 ----------
rows = list(range(len(SIG_NAMES)))
p7, g7 = make_panel(1297, 361, 1308, 1639, -1.052, 11.985, rows, SIG_NAMES, [],
                    left=127, xr=XR7, ylabel_size="12px", xstandoff=1, ystandoff=11)
p7.ygrid.grid_line_color = None
p7.segment(x0=[TRACE_START] * len(rows), x1=[TRACE_END] * len(rows), y0=rows, y1=rows,
           line_color=DIGI, line_width=1.5)
p7.hbar(y=rows, left=SIG_ON, right=SIG_OFF, height=0.5, fill_color=DIGI, line_color=None)
cursors(p7, g7, 1330, 1355, CURSOR_1, 1628)
tref(p7, g7, 137, 1633)

layout = row(Spacer(width=PAGE_X, height=10),
             column(Spacer(width=W, height=4), p1, p2, p3, p4, p5, p6, p7, spacing=0),
             spacing=0)
open("out.html", "w").write(file_html(layout, INLINE, title="Disturbance record"))
